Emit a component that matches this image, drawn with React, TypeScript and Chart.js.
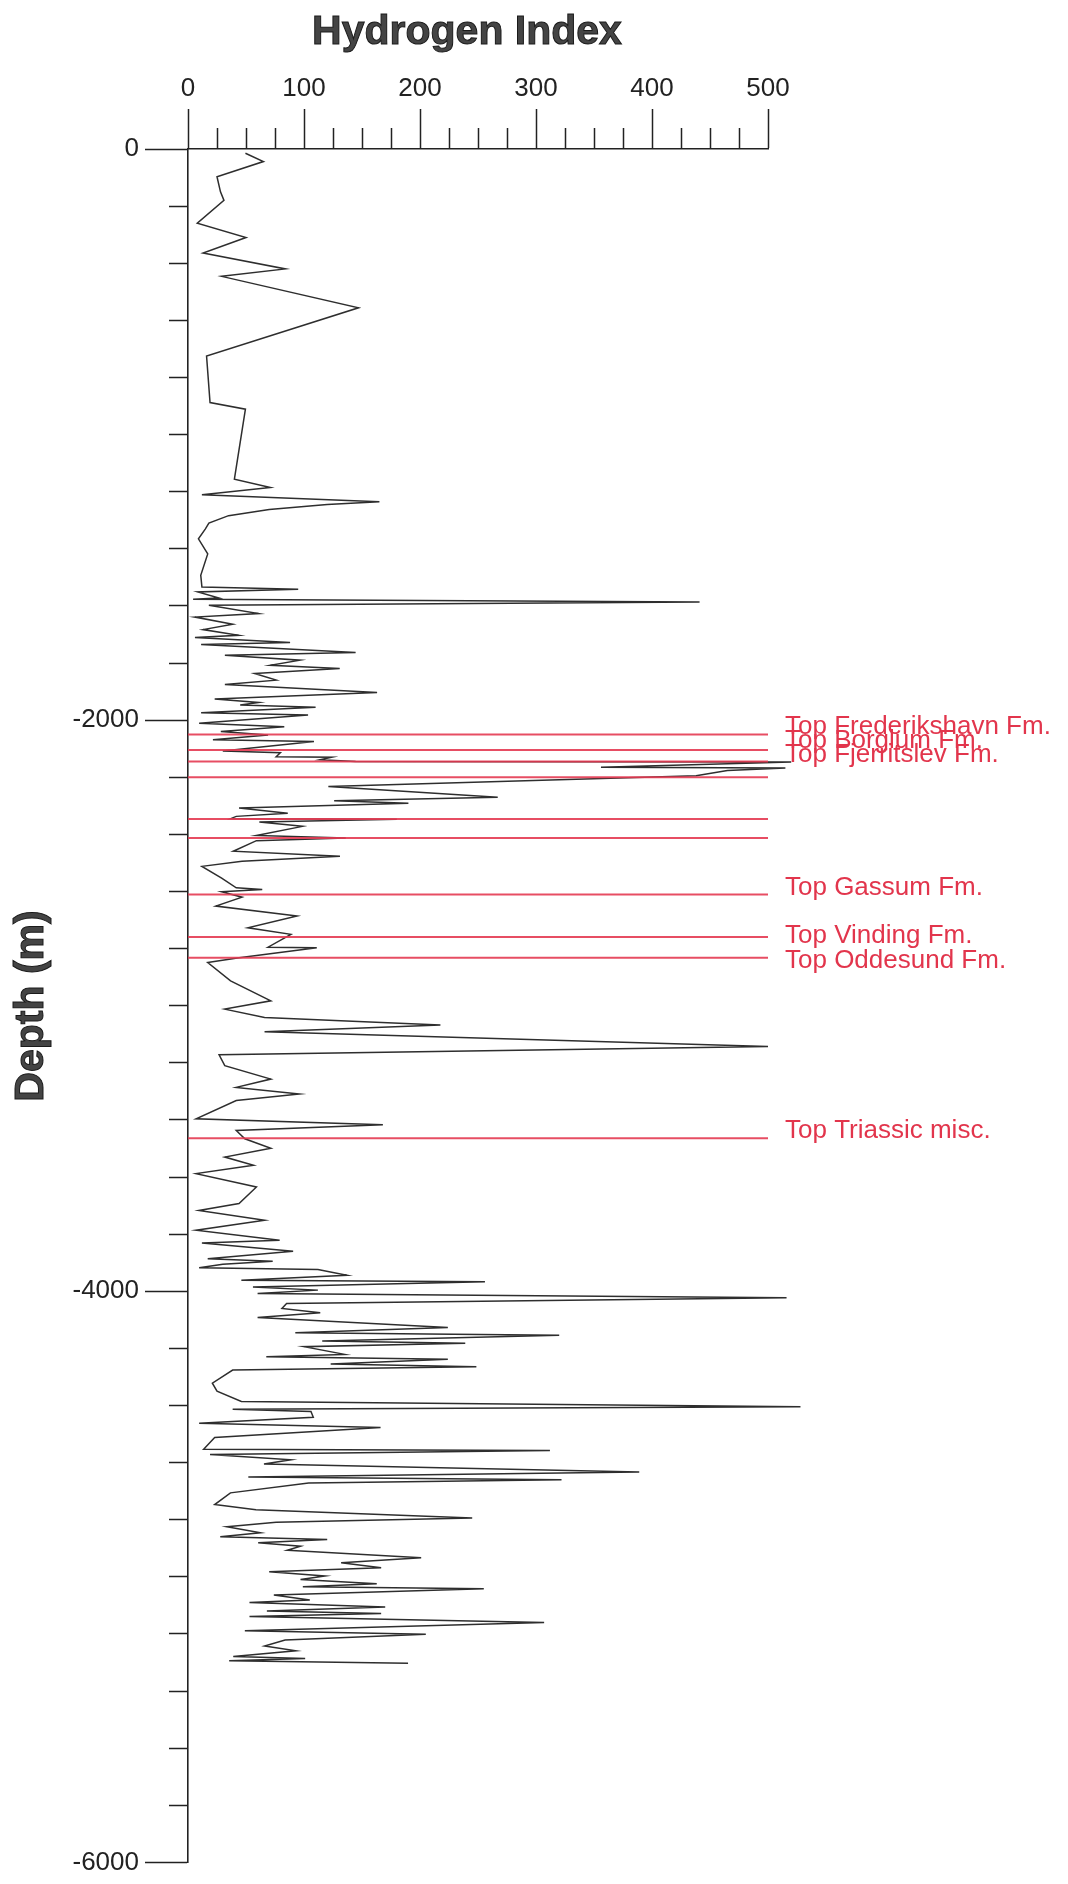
import React, { useEffect, useRef } from 'react';
import { Chart, registerables } from 'chart.js';

Chart.register(...registerables);

// Hydrogen Index log (HI, mg HC/g TOC) against depth (m, negative downwards)
const hiValues = [
  49.5, 65, 25, 28, 31, 8, 50, 13, 84, 29, 147, 16, 19, 49.5, 40, 71, 12, 165, 120, 70, 35, 18, 15, 9, 17, 11, 12,
  95, 8.5, 26.6, 4.4, 441, 18, 60.8, 6, 38.6, 13, 43.7, 6, 88, 11.3, 144.5, 31.8, 96.6, 71, 130.8, 57.4, 76, 31.8,
  163, 23, 61, 45, 110, 11.3, 103.5, 9.6, 83, 28.3, 69, 21.5, 108.6, 30, 79.6, 76, 124, 113.7, 144.5,
  520, 356, 515, 465, 438, 121, 267, 126, 190, 44, 86, 41.6, 36.7, 180, 61.5, 98.7, 59, 136, 59, 39, 131, 46.6,
  12, 29, 41.6, 64, 29, 46.6, 24, 94, 51.6, 88.7, 69, 111, 44, 17, 36.7, 71.4, 31.7, 66, 217.6, 66, 500, 26.8,
  31.7, 71.4, 41.6, 96, 41.6, 7, 168, 41.6, 49, 71.4, 31.7, 56.5, 7, 59, 44, 9.4, 66, 7, 79, 12, 90.6, 17, 73,
  30, 9.6, 112, 137, 46, 256, 56, 112, 60, 516, 85, 81, 114, 60, 224, 92.5, 320, 115.7, 239, 100, 135, 67.5,
  224, 123, 248.6, 38.5, 21, 25, 46, 528, 38.5, 106, 108, 9.6, 166, 23, 13.5, 312, 19, 88.7, 65.5, 389, 52,
  322, 104, 36.6, 23, 58.6, 245, 76, 33.5, 62.5, 27.8, 120, 60.5, 97, 85.6, 201, 132, 166.5, 70, 118, 97,
  162.7, 99, 255, 74, 105, 53, 170, 68, 166.5, 53, 307, 49, 205, 83.7, 66, 93, 39, 101, 35.5, 189.7,
];
const depthValues = [
  -15, -44, -97, -150, -180, -260, -310, -364, -420, -446, -556, -725, -888, -911, -1156, -1185, -1211, -1235,
  -1245, -1262, -1284, -1310, -1330, -1365, -1418, -1493, -1534,
  -1542, -1551, -1572, -1577, -1586, -1598, -1627, -1639, -1664, -1683, -1703, -1711, -1728, -1735, -1763, -1773,
  -1790, -1808, -1819, -1837, -1860, -1875, -1903, -1926, -1938, -1947, -1955, -1974, -1982, -2011, -2023,
  -2040, -2052, -2069, -2075, -2108, -2114, -2128, -2130, -2139, -2145,
  -2147, -2165, -2168, -2176, -2195, -2232, -2270, -2282, -2291, -2308, -2326, -2337, -2345, -2347, -2357,
  -2372, -2404, -2413, -2422, -2459, -2477, -2494, -2512, -2553, -2587, -2593, -2601, -2620, -2651, -2686,
  -2727, -2750, -2795, -2797, -2832, -2849, -2913, -2983, -3012, -3041, -3068, -3091, -3143, -3172,
  -3210, -3257, -3286, -3309, -3332, -3396, -3417, -3437, -3466, -3499, -3530, -3559, -3588, -3635, -3693,
  -3717, -3751, -3786, -3821, -3831, -3860, -3886, -3895,
  -3905, -3918, -3924, -3944, -3961, -3967, -3985, -3996, -4008, -4023, -4043, -4060, -4075, -4092, -4127,
  -4145, -4154, -4174, -4182, -4194, -4221, -4229, -4238, -4255, -4264, -4276, -4322, -4350, -4386, -4404,
  -4413, -4421, -4441, -4462, -4477, -4512, -4553, -4558, -4572, -4590, -4605, -4633, -4650, -4660, -4671,
  -4706, -4747, -4765, -4794, -4809, -4825, -4846, -4860, -4869, -4881, -4893, -4907, -4933, -4951, -4968,
  -4982, -4997, -5009, -5024, -5035, -5042, -5064, -5081, -5090, -5106, -5120, -5128, -5139, -5160, -5189,
  -5201, -5221, -5242, -5259, -5279, -5286, -5294, -5303,
];

// Formation tops (red lines) and their labels
const topLineDepths = [-2050, -2105, -2145, -2200, -2346, -2413, -2611, -2759, -2832, -3464];
const topLabelNames = [
  'Top Frederikshavn Fm.',
  'Top Borglum Fm.',
  'Top Fjerritslev Fm.',
  'Top Gassum Fm.',
  'Top Vinding Fm.',
  'Top Oddesund Fm.',
  'Top Triassic misc.',
];
const topLabelDepths = [-2050, -2098, -2147, -2611, -2780, -2867, -3464];

// Axis tick labels
const hiTickLabels = [0, 100, 200, 300, 400, 500];
const depthTickLabels = [0, -2000, -4000, -6000];

const FONT = '"Liberation Sans", Arial, Helvetica, sans-serif';
const INK = '#222';
const RED = 'rgba(228, 58, 82, 0.9)';

const textPlugin = {
  id: 'wellTexts',
  afterDraw(chart: any) {
    const { ctx, scales } = chart;
    const xs = scales.x;
    const ys = scales.y;
    ctx.save();
    ctx.font = `26px ${FONT}`;
    ctx.fillStyle = '#e2354c';
    ctx.textAlign = 'left';
    ctx.textBaseline = 'alphabetic';
    const lx = xs.getPixelForValue(500) + 17;
    topLabelNames.forEach((name, i) => {
      ctx.fillText(name, lx, ys.getPixelForValue(topLabelDepths[i]));
    });

    ctx.font = `bold 41px ${FONT}`;
    ctx.textAlign = 'center';
    ctx.fillStyle = '#444';
    ctx.strokeStyle = '#1a1a1a';
    ctx.lineWidth = 1;
    ctx.fillText('Hydrogen Index', 467, 44);
    ctx.strokeText('Hydrogen Index', 467, 44);

    ctx.translate(43, 1006);
    ctx.rotate(-Math.PI / 2);
    ctx.fillText('Depth (m)', 0, 0);
    ctx.strokeText('Depth (m)', 0, 0);
    ctx.restore();
  },
};

export default function App() {
  const canvasRef = useRef<HTMLCanvasElement | null>(null);

  useEffect(() => {
    if (!canvasRef.current) return;
    const logData = hiValues.map((v, i) => ({ x: v, y: depthValues[i] }));
    const topSets = topLineDepths.map((d) => ({
      data: [
        { x: 0, y: d },
        { x: 500, y: d },
      ],
      showLine: true,
      borderColor: RED,
      borderWidth: 2,
      pointRadius: 0,
      order: 0,
      clip: false as any,
    }));

    const chart = new Chart(canvasRef.current, {
      type: 'scatter',
      data: {
        datasets: [
          ...topSets,
          {
            data: logData,
            showLine: true,
            borderColor: '#2e2e2e',
            borderWidth: 1.5,
            pointRadius: 0,
            tension: 0,
            order: 1,
            clip: false as any,
          },
        ],
      },
      options: {
        animation: false,
        responsive: false,
        devicePixelRatio: 1,
        layout: { padding: { top: 0, left: 0, right: 300, bottom: 17 } },
        plugins: {
          legend: { display: false },
          tooltip: { enabled: false },
          title: { display: false },
        },
        scales: {
          x: {
            type: 'linear',
            position: 'top',
            min: 0,
            max: 500,
            ticks: {
              stepSize: 25,
              autoSkip: false,
              maxRotation: 0,
              padding: 5,
              color: INK,
              font: { family: FONT, size: 26 },
              callback: (v: any) => (hiTickLabels.includes(Math.round(Number(v))) ? String(Math.round(Number(v))) : ''),
            },
            grid: {
              drawOnChartArea: false,
              drawTicks: true,
              tickLength: 40,
              tickColor: INK,
              tickWidth: 1.5,
              tickBorderDash: (c: any) =>
                c.tick && hiTickLabels.includes(Math.round(c.tick.value)) ? [] : [0, 19, 100],
            },
            border: { display: true, color: INK, width: 1.6 },
            afterFit: (s: any) => {
              s.height = 149;
            },
          },
          y: {
            type: 'linear',
            position: 'left',
            min: -6000,
            max: 0,
            ticks: {
              stepSize: 200,
              autoSkip: false,
              padding: 6,
              color: INK,
              font: { family: FONT, size: 26 },
              callback: (v: any) =>
                depthTickLabels.includes(Math.round(Number(v))) ? String(Math.round(Number(v))) : '',
            },
            grid: {
              drawOnChartArea: false,
              drawTicks: true,
              tickLength: 43,
              tickColor: INK,
              tickWidth: 1.5,
              tickBorderDash: (c: any) =>
                c.tick && depthTickLabels.includes(Math.round(c.tick.value)) ? [] : [0, 24, 100],
            },
            border: { display: true, color: INK, width: 1.6 },
            afterFit: (s: any) => {
              s.width = 188;
            },
          },
        },
      } as any,
      plugins: [textPlugin],
    });
    return () => chart.destroy();
  }, []);

  return (
    <div style={{ position: 'absolute', left: 0, top: 0, width: 1068, height: 1884, background: '#fff' }}>
      <canvas ref={canvasRef} width={1068} height={1884} />
    </div>
  );
}
